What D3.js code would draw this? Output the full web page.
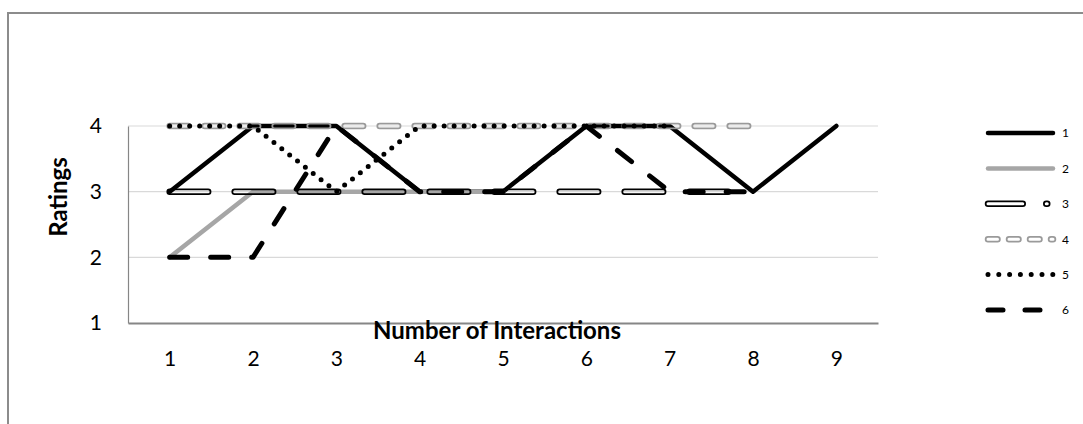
<!DOCTYPE html>
<html><head><meta charset="utf-8">
<script src="https://cdn.jsdelivr.net/npm/d3@7"></script>
<style>
body{margin:0;background:#fff}
svg{display:block}
text{font-family:Lato,"Liberation Sans",sans-serif;fill:#000}
</style>
</head><body>
<svg id="chart" width="1083" height="424"></svg>
<script>
// ---------- data ----------
const categories = [1, 2, 3, 4, 5, 6, 7, 8, 9];
const yTicks = [1, 2, 3, 4];
const seriesNames = ["1", "2", "3", "4", "5", "6"];
const s1 = [3, 4, 4, 3, 3, 4, 4, 3, 4];
const s2 = [2, 3, 3, 3, 3];
const s3 = [3, 3, 3, 3, 3, 3, 3, 3];
const s4 = [4, 4, 4, 4, 4, 4, 4, 4];
const s5 = [4, 4, 3, 4, 4, 4, 4];
const s6 = [2, 2, 4, 3, 3, 4, 3, 3];
const xTitle = "Number of Interactions";
const yTitle = "Ratings";

// ---------- styles ----------
const styles = [
  {color: "#000", width: 4.5, dash: null, legendDash: null},
  {color: "#a6a6a6", width: 4.5, dash: null, legendDash: null},
  {color: "#000", width: 6.5, inner: 3, dash: "38.5 26.5", legendDash: "34.75 23.5 1 40", double: true},
  {color: "#9a9a9a", width: 6.5, inner: 3, dash: "18.5 16.5", legendDash: "9.5 11.5", double: true},
  {color: "#000", width: 5, dash: "0 10", legendDash: "0 10.8"},
  {color: "#000", width: 5, dash: "18 23", legendDash: "15 22"}
];
const allSeries = [s1, s2, s3, s4, s5, s6];

const W = 1083, H = 424;
const plot = {left: 128, right: 878, top: 126, bottom: 323};

const svg = d3.select("#chart");
const defs = svg.append("defs");

// outer frame
svg.append("rect").attr("x", 8).attr("y", 13).attr("width", 1200).attr("height", 600)
  .attr("fill", "none").attr("stroke", "#8c8c8c").attr("stroke-width", 2);

const x = d3.scalePoint().domain(categories).range([plot.left, plot.right]).padding(0.5);
const y = d3.scaleLinear().domain([1, 4]).range([plot.bottom, plot.top]);

// gridlines
svg.append("g").selectAll("line").data(yTicks.filter(d => d > 1)).join("line")
  .attr("x1", plot.left).attr("x2", plot.right)
  .attr("y1", d => y(d)).attr("y2", d => y(d))
  .attr("stroke", "#d9d9d9").attr("stroke-width", 1.2);

// y axis
const gy = svg.append("g").attr("transform", `translate(${plot.left},0)`)
  .call(d3.axisLeft(y).tickValues(yTicks).tickSize(0).tickPadding(26).tickFormat(d3.format("d")));
gy.select(".domain").attr("stroke", "#868686").attr("stroke-width", 1.2);
gy.selectAll("text").style("font-size", "21px").attr("font-family", null);

// x axis
const gx = svg.append("g").attr("transform", `translate(0,${plot.bottom})`)
  .call(d3.axisBottom(x).tickSize(0).tickPadding(28));
gx.select(".domain").attr("stroke", "#868686").attr("stroke-width", 2);
gx.selectAll("text").style("font-size", "21px").attr("font-family", null);

// titles
svg.append("text").attr("x", 497).attr("y", 339).attr("text-anchor", "middle")
  .style("font-size", "24px").style("font-weight", "bold").text(xTitle);
svg.append("text").attr("transform", "translate(59,197) rotate(-90)")
  .attr("text-anchor", "middle").attr("dy", "0.35em")
  .style("font-size", "24px").style("font-weight", "bold").text(yTitle);

// lines
const line = d3.line().x((d, i) => x(categories[i])).y(d => y(d));

function drawStroke(parent, dAttr, st, dash, id) {
  if (st.double) {
    const m = defs.append("mask").attr("id", id)
      .attr("maskUnits", "userSpaceOnUse").attr("x", 0).attr("y", 0)
      .attr("width", W).attr("height", H);
    m.append("rect").attr("x", 0).attr("y", 0).attr("width", W).attr("height", H).attr("fill", "#fff");
    m.append("path").attr("d", dAttr).attr("fill", "none").attr("stroke", "#000")
      .attr("stroke-width", st.inner).attr("stroke-dasharray", dash)
      .attr("stroke-linecap", "round").attr("stroke-linejoin", "round");
    parent.append("path").attr("d", dAttr).attr("fill", "none")
      .attr("stroke", st.color).attr("stroke-width", st.width)
      .attr("stroke-dasharray", dash).attr("stroke-linecap", "round")
      .attr("stroke-linejoin", "round").attr("mask", `url(#${id})`);
  } else {
    parent.append("path").attr("d", dAttr).attr("fill", "none")
      .attr("stroke", st.color).attr("stroke-width", st.width)
      .attr("stroke-dasharray", dash).attr("stroke-linecap", "round")
      .attr("stroke-linejoin", "round");
  }
}

const gl = svg.append("g");
allSeries.forEach((s, i) => drawStroke(gl, line(s), styles[i], styles[i].dash, "m" + i));

// legend
const legendY = d3.scalePoint().domain(seriesNames).range([133, 310]);
const lg = svg.append("g");
seriesNames.forEach((n, i) => {
  const yy = legendY(n);
  const dAttr = `M988,${yy}H1053`;
  drawStroke(lg, dAttr, styles[i], styles[i].legendDash, "lm" + i);
  lg.append("text").attr("x", 1062).attr("y", yy).attr("dy", "0.36em")
    .style("font-size", "12px").text(n);
});
</script>
</body></html>
